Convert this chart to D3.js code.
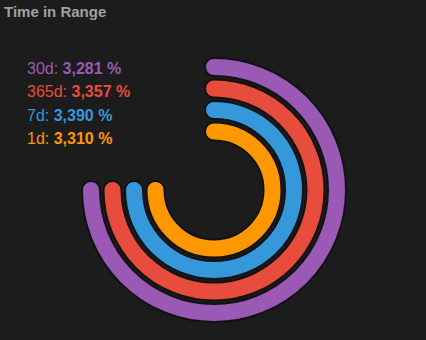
<!DOCTYPE html>
<html>
<head>
<meta charset="utf-8">
<script src="https://cdn.jsdelivr.net/npm/d3@7"></script>
<style>
  html, body { margin: 0; padding: 0; background: #1c1c1c; }
  svg { display: block; }
</style>
</head>
<body>
<svg id="chart" width="426" height="340"></svg>
<script>
const categories = ["30d", "365d", "7d", "1d"];
const values = [3281, 3357, 3390, 3310];      // percent
const valueLabels = ["3,281 %", "3,357 %", "3,390 %", "3,310 %"];
const colors = ["#9b59b6", "#e74c3c", "#3498db", "#ff9800"];
const title = "Time in Range";

const svg = d3.select("#chart");
const W = 426, H = 340;
svg.append("rect").attr("width", W).attr("height", H).attr("fill", "#1c1c1c");

svg.append("text")
  .attr("x", 4).attr("y", 17)
  .attr("fill", "#a0a0a0")
  .attr("font-family", "'Liberation Sans', Arial, sans-serif")
  .attr("font-size", 15).attr("font-weight", "bold")
  .text(title);

const cx = 214, cy = 190;
const g = svg.append("g").attr("transform", `translate(${cx},${cy})`);

// angle scale: 0..100% mapped to 0..270 degrees, clamped
const angle = d3.scaleLinear().domain([0, 100]).range([0, 1.5 * Math.PI]).clamp(true);
// ring mid-radius scale; first category is outermost
const ring = d3.scalePoint().domain(categories).range([123, 58.5]);
const thickness = 16;

const data = categories.map((c, i) => ({ c, v: values[i], label: valueLabels[i], color: colors[i] }));

function arcPath(d) {
  const p = d3.path();
  const r = ring(d.c);
  p.arc(0, 0, r, -Math.PI / 2, angle(d.v) - Math.PI / 2, false);
  return p.toString();
}

const rings = g.selectAll("g.ring").data(data).join("g").attr("class", "ring");
rings.append("path")
  .attr("d", arcPath)
  .attr("fill", "none")
  .attr("stroke", "#121212")
  .attr("stroke-width", thickness + 4)
  .attr("stroke-linecap", "round");
rings.append("path")
  .attr("d", arcPath)
  .attr("fill", "none")
  .attr("stroke", d => d.color)
  .attr("stroke-width", thickness)
  .attr("stroke-linecap", "round");

const legend = svg.append("g")
  .attr("font-family", "'Liberation Sans', Arial, sans-serif")
  .attr("font-size", 16);
const ly = d3.scalePoint().domain(categories).range([74, 144]);
data.forEach(d => {
  const t = legend.append("text")
    .attr("x", 27).attr("y", ly(d.c))
    .attr("fill", d.color);
  t.append("tspan").text(d.c + ": ");
  t.append("tspan").attr("font-weight", "bold").text(d.label);
});
</script>
</body>
</html>
